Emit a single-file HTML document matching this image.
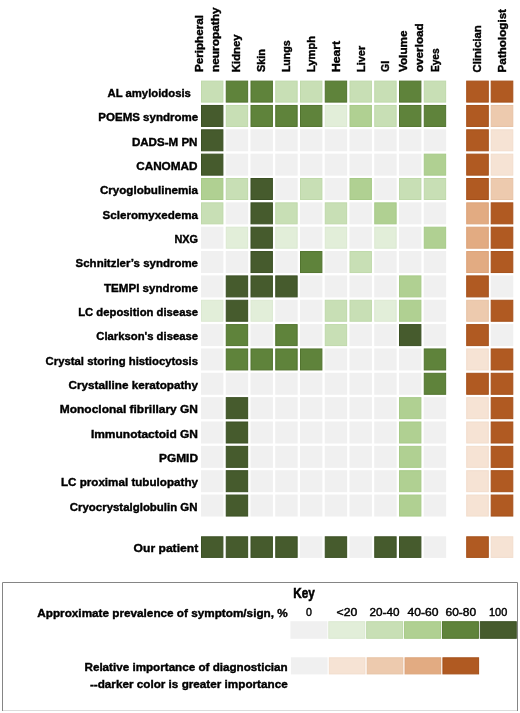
<!DOCTYPE html>
<html><head><meta charset="utf-8"><style>
html,body{margin:0;padding:0;background:#fff;}
body{width:520px;height:713px;overflow:hidden;}
svg{display:block;filter:blur(0.35px);}
text{font-family:"Liberation Sans",sans-serif;font-weight:bold;font-size:11.5px;fill:#000;stroke:#000;stroke-width:0.4px;}
text.r{font-weight:normal;stroke-width:0.45px;}
</style></head><body>
<svg width="520" height="713" viewBox="0 0 520 713">
<rect x="0" y="0" width="520" height="713" fill="#fff"/>
<g>
<rect x="201.50" y="81.10" width="21.40" height="21.00" fill="#c8dfb5" stroke="#bfd9aa" stroke-width="1"/>
<rect x="226.25" y="81.10" width="21.40" height="21.00" fill="#5f833b" stroke="#52742f" stroke-width="1"/>
<rect x="251.00" y="81.10" width="21.40" height="21.00" fill="#5f833b" stroke="#52742f" stroke-width="1"/>
<rect x="275.75" y="81.10" width="21.40" height="21.00" fill="#c8dfb5" stroke="#bfd9aa" stroke-width="1"/>
<rect x="300.50" y="81.10" width="21.40" height="21.00" fill="#c8dfb5" stroke="#bfd9aa" stroke-width="1"/>
<rect x="325.25" y="81.10" width="21.40" height="21.00" fill="#5f833b" stroke="#52742f" stroke-width="1"/>
<rect x="350.00" y="81.10" width="21.40" height="21.00" fill="#c8dfb5" stroke="#bfd9aa" stroke-width="1"/>
<rect x="374.75" y="81.10" width="21.40" height="21.00" fill="#c8dfb5" stroke="#bfd9aa" stroke-width="1"/>
<rect x="399.50" y="81.10" width="21.40" height="21.00" fill="#5f833b" stroke="#52742f" stroke-width="1"/>
<rect x="424.25" y="81.10" width="21.40" height="21.00" fill="#c8dfb5" stroke="#bfd9aa" stroke-width="1"/>
<rect x="466.70" y="81.10" width="21.60" height="21.00" fill="#b05a22" stroke="#a5501a" stroke-width="1"/>
<rect x="491.20" y="81.10" width="21.60" height="21.00" fill="#b05a22" stroke="#a5501a" stroke-width="1"/>
<text x="190.90" y="96.80" text-anchor="end" textLength="83.40" lengthAdjust="spacingAndGlyphs">AL amyloidosis</text>
<rect x="201.50" y="105.45" width="21.40" height="21.00" fill="#465b2d" stroke="#3b5024" stroke-width="1"/>
<rect x="226.25" y="105.45" width="21.40" height="21.00" fill="#c8dfb5" stroke="#bfd9aa" stroke-width="1"/>
<rect x="251.00" y="105.45" width="21.40" height="21.00" fill="#5f833b" stroke="#52742f" stroke-width="1"/>
<rect x="275.75" y="105.45" width="21.40" height="21.00" fill="#5f833b" stroke="#52742f" stroke-width="1"/>
<rect x="300.50" y="105.45" width="21.40" height="21.00" fill="#5f833b" stroke="#52742f" stroke-width="1"/>
<rect x="325.25" y="105.45" width="21.40" height="21.00" fill="#e2eed9" stroke="#dbe9d1" stroke-width="1"/>
<rect x="350.00" y="105.45" width="21.40" height="21.00" fill="#b0d092" stroke="#a7ca88" stroke-width="1"/>
<rect x="374.75" y="105.45" width="21.40" height="21.00" fill="#c8dfb5" stroke="#bfd9aa" stroke-width="1"/>
<rect x="399.50" y="105.45" width="21.40" height="21.00" fill="#5f833b" stroke="#52742f" stroke-width="1"/>
<rect x="424.25" y="105.45" width="21.40" height="21.00" fill="#5f833b" stroke="#52742f" stroke-width="1"/>
<rect x="466.70" y="105.45" width="21.60" height="21.00" fill="#b05a22" stroke="#a5501a" stroke-width="1"/>
<rect x="491.20" y="105.45" width="21.60" height="21.00" fill="#edcaae" stroke="#e7c2a4" stroke-width="1"/>
<text x="198.20" y="121.15" text-anchor="end" textLength="99.90" lengthAdjust="spacingAndGlyphs">POEMS syndrome</text>
<rect x="201.50" y="129.80" width="21.40" height="21.00" fill="#465b2d" stroke="#3b5024" stroke-width="1"/>
<rect x="225.75" y="129.30" width="22.40" height="22.00" fill="#f0f0f0"/>
<rect x="250.50" y="129.30" width="22.40" height="22.00" fill="#f0f0f0"/>
<rect x="275.25" y="129.30" width="22.40" height="22.00" fill="#f0f0f0"/>
<rect x="300.00" y="129.30" width="22.40" height="22.00" fill="#f0f0f0"/>
<rect x="324.75" y="129.30" width="22.40" height="22.00" fill="#f0f0f0"/>
<rect x="349.50" y="129.30" width="22.40" height="22.00" fill="#f0f0f0"/>
<rect x="374.25" y="129.30" width="22.40" height="22.00" fill="#f0f0f0"/>
<rect x="399.00" y="129.30" width="22.40" height="22.00" fill="#f0f0f0"/>
<rect x="423.75" y="129.30" width="22.40" height="22.00" fill="#f0f0f0"/>
<rect x="466.70" y="129.80" width="21.60" height="21.00" fill="#b05a22" stroke="#a5501a" stroke-width="1"/>
<rect x="491.20" y="129.80" width="21.60" height="21.00" fill="#f6e3d4" stroke="#f2ddcc" stroke-width="1"/>
<text x="197.50" y="145.50" text-anchor="end" textLength="65.60" lengthAdjust="spacingAndGlyphs">DADS-M PN</text>
<rect x="201.50" y="154.15" width="21.40" height="21.00" fill="#465b2d" stroke="#3b5024" stroke-width="1"/>
<rect x="225.75" y="153.65" width="22.40" height="22.00" fill="#f0f0f0"/>
<rect x="250.50" y="153.65" width="22.40" height="22.00" fill="#f0f0f0"/>
<rect x="275.25" y="153.65" width="22.40" height="22.00" fill="#f0f0f0"/>
<rect x="300.00" y="153.65" width="22.40" height="22.00" fill="#f0f0f0"/>
<rect x="324.75" y="153.65" width="22.40" height="22.00" fill="#f0f0f0"/>
<rect x="349.50" y="153.65" width="22.40" height="22.00" fill="#f0f0f0"/>
<rect x="374.25" y="153.65" width="22.40" height="22.00" fill="#f0f0f0"/>
<rect x="399.00" y="153.65" width="22.40" height="22.00" fill="#f0f0f0"/>
<rect x="424.25" y="154.15" width="21.40" height="21.00" fill="#b0d092" stroke="#a7ca88" stroke-width="1"/>
<rect x="466.70" y="154.15" width="21.60" height="21.00" fill="#b05a22" stroke="#a5501a" stroke-width="1"/>
<rect x="491.20" y="154.15" width="21.60" height="21.00" fill="#f6e3d4" stroke="#f2ddcc" stroke-width="1"/>
<text x="197.50" y="169.85" text-anchor="end" textLength="61.30" lengthAdjust="spacingAndGlyphs">CANOMAD</text>
<rect x="201.50" y="178.50" width="21.40" height="21.00" fill="#b0d092" stroke="#a7ca88" stroke-width="1"/>
<rect x="226.25" y="178.50" width="21.40" height="21.00" fill="#c8dfb5" stroke="#bfd9aa" stroke-width="1"/>
<rect x="251.00" y="178.50" width="21.40" height="21.00" fill="#465b2d" stroke="#3b5024" stroke-width="1"/>
<rect x="275.25" y="178.00" width="22.40" height="22.00" fill="#f0f0f0"/>
<rect x="300.50" y="178.50" width="21.40" height="21.00" fill="#c8dfb5" stroke="#bfd9aa" stroke-width="1"/>
<rect x="324.75" y="178.00" width="22.40" height="22.00" fill="#f0f0f0"/>
<rect x="350.00" y="178.50" width="21.40" height="21.00" fill="#b0d092" stroke="#a7ca88" stroke-width="1"/>
<rect x="374.25" y="178.00" width="22.40" height="22.00" fill="#f0f0f0"/>
<rect x="399.50" y="178.50" width="21.40" height="21.00" fill="#c8dfb5" stroke="#bfd9aa" stroke-width="1"/>
<rect x="424.25" y="178.50" width="21.40" height="21.00" fill="#c8dfb5" stroke="#bfd9aa" stroke-width="1"/>
<rect x="466.70" y="178.50" width="21.60" height="21.00" fill="#b05a22" stroke="#a5501a" stroke-width="1"/>
<rect x="491.20" y="178.50" width="21.60" height="21.00" fill="#edcaae" stroke="#e7c2a4" stroke-width="1"/>
<text x="198.00" y="194.20" text-anchor="end" textLength="98.10" lengthAdjust="spacingAndGlyphs">Cryoglobulinemia</text>
<rect x="201.50" y="202.85" width="21.40" height="21.00" fill="#c8dfb5" stroke="#bfd9aa" stroke-width="1"/>
<rect x="225.75" y="202.35" width="22.40" height="22.00" fill="#f0f0f0"/>
<rect x="251.00" y="202.85" width="21.40" height="21.00" fill="#465b2d" stroke="#3b5024" stroke-width="1"/>
<rect x="275.75" y="202.85" width="21.40" height="21.00" fill="#c8dfb5" stroke="#bfd9aa" stroke-width="1"/>
<rect x="300.00" y="202.35" width="22.40" height="22.00" fill="#f0f0f0"/>
<rect x="325.25" y="202.85" width="21.40" height="21.00" fill="#c8dfb5" stroke="#bfd9aa" stroke-width="1"/>
<rect x="349.50" y="202.35" width="22.40" height="22.00" fill="#f0f0f0"/>
<rect x="374.75" y="202.85" width="21.40" height="21.00" fill="#b0d092" stroke="#a7ca88" stroke-width="1"/>
<rect x="399.00" y="202.35" width="22.40" height="22.00" fill="#f0f0f0"/>
<rect x="423.75" y="202.35" width="22.40" height="22.00" fill="#f0f0f0"/>
<rect x="466.70" y="202.85" width="21.60" height="21.00" fill="#e2ab82" stroke="#dca379" stroke-width="1"/>
<rect x="491.20" y="202.85" width="21.60" height="21.00" fill="#b05a22" stroke="#a5501a" stroke-width="1"/>
<text x="198.00" y="218.55" text-anchor="end" textLength="95.50" lengthAdjust="spacingAndGlyphs">Scleromyxedema</text>
<rect x="201.00" y="226.70" width="22.40" height="22.00" fill="#f0f0f0"/>
<rect x="226.25" y="227.20" width="21.40" height="21.00" fill="#e2eed9" stroke="#dbe9d1" stroke-width="1"/>
<rect x="251.00" y="227.20" width="21.40" height="21.00" fill="#465b2d" stroke="#3b5024" stroke-width="1"/>
<rect x="275.75" y="227.20" width="21.40" height="21.00" fill="#e2eed9" stroke="#dbe9d1" stroke-width="1"/>
<rect x="300.00" y="226.70" width="22.40" height="22.00" fill="#f0f0f0"/>
<rect x="325.25" y="227.20" width="21.40" height="21.00" fill="#e2eed9" stroke="#dbe9d1" stroke-width="1"/>
<rect x="349.50" y="226.70" width="22.40" height="22.00" fill="#f0f0f0"/>
<rect x="374.75" y="227.20" width="21.40" height="21.00" fill="#e2eed9" stroke="#dbe9d1" stroke-width="1"/>
<rect x="399.00" y="226.70" width="22.40" height="22.00" fill="#f0f0f0"/>
<rect x="424.25" y="227.20" width="21.40" height="21.00" fill="#b0d092" stroke="#a7ca88" stroke-width="1"/>
<rect x="466.70" y="227.20" width="21.60" height="21.00" fill="#e2ab82" stroke="#dca379" stroke-width="1"/>
<rect x="491.20" y="227.20" width="21.60" height="21.00" fill="#b05a22" stroke="#a5501a" stroke-width="1"/>
<text x="198.00" y="242.90" text-anchor="end" textLength="23.60" lengthAdjust="spacingAndGlyphs">NXG</text>
<rect x="201.00" y="251.05" width="22.40" height="22.00" fill="#f0f0f0"/>
<rect x="225.75" y="251.05" width="22.40" height="22.00" fill="#f0f0f0"/>
<rect x="251.00" y="251.55" width="21.40" height="21.00" fill="#465b2d" stroke="#3b5024" stroke-width="1"/>
<rect x="275.25" y="251.05" width="22.40" height="22.00" fill="#f0f0f0"/>
<rect x="300.50" y="251.55" width="21.40" height="21.00" fill="#5f833b" stroke="#52742f" stroke-width="1"/>
<rect x="324.75" y="251.05" width="22.40" height="22.00" fill="#f0f0f0"/>
<rect x="350.00" y="251.55" width="21.40" height="21.00" fill="#c8dfb5" stroke="#bfd9aa" stroke-width="1"/>
<rect x="374.25" y="251.05" width="22.40" height="22.00" fill="#f0f0f0"/>
<rect x="399.00" y="251.05" width="22.40" height="22.00" fill="#f0f0f0"/>
<rect x="423.75" y="251.05" width="22.40" height="22.00" fill="#f0f0f0"/>
<rect x="466.70" y="251.55" width="21.60" height="21.00" fill="#e2ab82" stroke="#dca379" stroke-width="1"/>
<rect x="491.20" y="251.55" width="21.60" height="21.00" fill="#b05a22" stroke="#a5501a" stroke-width="1"/>
<text x="198.00" y="267.25" text-anchor="end" textLength="122.40" lengthAdjust="spacingAndGlyphs">Schnitzler’s syndrome</text>
<rect x="201.00" y="275.40" width="22.40" height="22.00" fill="#f0f0f0"/>
<rect x="226.25" y="275.90" width="21.40" height="21.00" fill="#465b2d" stroke="#3b5024" stroke-width="1"/>
<rect x="251.00" y="275.90" width="21.40" height="21.00" fill="#465b2d" stroke="#3b5024" stroke-width="1"/>
<rect x="275.75" y="275.90" width="21.40" height="21.00" fill="#465b2d" stroke="#3b5024" stroke-width="1"/>
<rect x="300.00" y="275.40" width="22.40" height="22.00" fill="#f0f0f0"/>
<rect x="324.75" y="275.40" width="22.40" height="22.00" fill="#f0f0f0"/>
<rect x="349.50" y="275.40" width="22.40" height="22.00" fill="#f0f0f0"/>
<rect x="374.25" y="275.40" width="22.40" height="22.00" fill="#f0f0f0"/>
<rect x="399.50" y="275.90" width="21.40" height="21.00" fill="#b0d092" stroke="#a7ca88" stroke-width="1"/>
<rect x="423.75" y="275.40" width="22.40" height="22.00" fill="#f0f0f0"/>
<rect x="466.70" y="275.90" width="21.60" height="21.00" fill="#b05a22" stroke="#a5501a" stroke-width="1"/>
<rect x="490.70" y="275.40" width="22.60" height="22.00" fill="#f0f0f0"/>
<text x="198.00" y="291.60" text-anchor="end" textLength="94.00" lengthAdjust="spacingAndGlyphs">TEMPI syndrome</text>
<rect x="201.50" y="300.25" width="21.40" height="21.00" fill="#e2eed9" stroke="#dbe9d1" stroke-width="1"/>
<rect x="226.25" y="300.25" width="21.40" height="21.00" fill="#465b2d" stroke="#3b5024" stroke-width="1"/>
<rect x="251.00" y="300.25" width="21.40" height="21.00" fill="#e2eed9" stroke="#dbe9d1" stroke-width="1"/>
<rect x="275.25" y="299.75" width="22.40" height="22.00" fill="#f0f0f0"/>
<rect x="300.00" y="299.75" width="22.40" height="22.00" fill="#f0f0f0"/>
<rect x="325.25" y="300.25" width="21.40" height="21.00" fill="#c8dfb5" stroke="#bfd9aa" stroke-width="1"/>
<rect x="350.00" y="300.25" width="21.40" height="21.00" fill="#c8dfb5" stroke="#bfd9aa" stroke-width="1"/>
<rect x="374.75" y="300.25" width="21.40" height="21.00" fill="#e2eed9" stroke="#dbe9d1" stroke-width="1"/>
<rect x="399.50" y="300.25" width="21.40" height="21.00" fill="#b0d092" stroke="#a7ca88" stroke-width="1"/>
<rect x="423.75" y="299.75" width="22.40" height="22.00" fill="#f0f0f0"/>
<rect x="466.70" y="300.25" width="21.60" height="21.00" fill="#edcaae" stroke="#e7c2a4" stroke-width="1"/>
<rect x="491.20" y="300.25" width="21.60" height="21.00" fill="#b05a22" stroke="#a5501a" stroke-width="1"/>
<text x="198.00" y="315.95" text-anchor="end" textLength="119.80" lengthAdjust="spacingAndGlyphs">LC deposition disease</text>
<rect x="201.00" y="324.10" width="22.40" height="22.00" fill="#f0f0f0"/>
<rect x="226.25" y="324.60" width="21.40" height="21.00" fill="#5f833b" stroke="#52742f" stroke-width="1"/>
<rect x="250.50" y="324.10" width="22.40" height="22.00" fill="#f0f0f0"/>
<rect x="275.75" y="324.60" width="21.40" height="21.00" fill="#5f833b" stroke="#52742f" stroke-width="1"/>
<rect x="300.00" y="324.10" width="22.40" height="22.00" fill="#f0f0f0"/>
<rect x="325.25" y="324.60" width="21.40" height="21.00" fill="#c8dfb5" stroke="#bfd9aa" stroke-width="1"/>
<rect x="349.50" y="324.10" width="22.40" height="22.00" fill="#f0f0f0"/>
<rect x="374.25" y="324.10" width="22.40" height="22.00" fill="#f0f0f0"/>
<rect x="399.50" y="324.60" width="21.40" height="21.00" fill="#465b2d" stroke="#3b5024" stroke-width="1"/>
<rect x="423.75" y="324.10" width="22.40" height="22.00" fill="#f0f0f0"/>
<rect x="466.70" y="324.60" width="21.60" height="21.00" fill="#b05a22" stroke="#a5501a" stroke-width="1"/>
<rect x="490.70" y="324.10" width="22.60" height="22.00" fill="#f0f0f0"/>
<text x="198.00" y="340.30" text-anchor="end" textLength="101.70" lengthAdjust="spacingAndGlyphs">Clarkson's disease</text>
<rect x="201.00" y="348.45" width="22.40" height="22.00" fill="#f0f0f0"/>
<rect x="226.25" y="348.95" width="21.40" height="21.00" fill="#5f833b" stroke="#52742f" stroke-width="1"/>
<rect x="251.00" y="348.95" width="21.40" height="21.00" fill="#5f833b" stroke="#52742f" stroke-width="1"/>
<rect x="275.75" y="348.95" width="21.40" height="21.00" fill="#5f833b" stroke="#52742f" stroke-width="1"/>
<rect x="300.50" y="348.95" width="21.40" height="21.00" fill="#5f833b" stroke="#52742f" stroke-width="1"/>
<rect x="324.75" y="348.45" width="22.40" height="22.00" fill="#f0f0f0"/>
<rect x="349.50" y="348.45" width="22.40" height="22.00" fill="#f0f0f0"/>
<rect x="374.25" y="348.45" width="22.40" height="22.00" fill="#f0f0f0"/>
<rect x="399.00" y="348.45" width="22.40" height="22.00" fill="#f0f0f0"/>
<rect x="424.25" y="348.95" width="21.40" height="21.00" fill="#5f833b" stroke="#52742f" stroke-width="1"/>
<rect x="466.70" y="348.95" width="21.60" height="21.00" fill="#f6e3d4" stroke="#f2ddcc" stroke-width="1"/>
<rect x="491.20" y="348.95" width="21.60" height="21.00" fill="#b05a22" stroke="#a5501a" stroke-width="1"/>
<text x="198.00" y="364.65" text-anchor="end" textLength="152.40" lengthAdjust="spacingAndGlyphs">Crystal storing histiocytosis</text>
<rect x="201.00" y="372.80" width="22.40" height="22.00" fill="#f0f0f0"/>
<rect x="225.75" y="372.80" width="22.40" height="22.00" fill="#f0f0f0"/>
<rect x="250.50" y="372.80" width="22.40" height="22.00" fill="#f0f0f0"/>
<rect x="275.25" y="372.80" width="22.40" height="22.00" fill="#f0f0f0"/>
<rect x="300.00" y="372.80" width="22.40" height="22.00" fill="#f0f0f0"/>
<rect x="324.75" y="372.80" width="22.40" height="22.00" fill="#f0f0f0"/>
<rect x="349.50" y="372.80" width="22.40" height="22.00" fill="#f0f0f0"/>
<rect x="374.25" y="372.80" width="22.40" height="22.00" fill="#f0f0f0"/>
<rect x="399.00" y="372.80" width="22.40" height="22.00" fill="#f0f0f0"/>
<rect x="424.25" y="373.30" width="21.40" height="21.00" fill="#5f833b" stroke="#52742f" stroke-width="1"/>
<rect x="466.70" y="373.30" width="21.60" height="21.00" fill="#b05a22" stroke="#a5501a" stroke-width="1"/>
<rect x="491.20" y="373.30" width="21.60" height="21.00" fill="#b05a22" stroke="#a5501a" stroke-width="1"/>
<text x="198.00" y="389.00" text-anchor="end" textLength="129.40" lengthAdjust="spacingAndGlyphs">Crystalline keratopathy</text>
<rect x="201.00" y="397.15" width="22.40" height="22.00" fill="#f0f0f0"/>
<rect x="226.25" y="397.65" width="21.40" height="21.00" fill="#465b2d" stroke="#3b5024" stroke-width="1"/>
<rect x="250.50" y="397.15" width="22.40" height="22.00" fill="#f0f0f0"/>
<rect x="275.25" y="397.15" width="22.40" height="22.00" fill="#f0f0f0"/>
<rect x="300.00" y="397.15" width="22.40" height="22.00" fill="#f0f0f0"/>
<rect x="324.75" y="397.15" width="22.40" height="22.00" fill="#f0f0f0"/>
<rect x="349.50" y="397.15" width="22.40" height="22.00" fill="#f0f0f0"/>
<rect x="374.25" y="397.15" width="22.40" height="22.00" fill="#f0f0f0"/>
<rect x="399.50" y="397.65" width="21.40" height="21.00" fill="#b0d092" stroke="#a7ca88" stroke-width="1"/>
<rect x="423.75" y="397.15" width="22.40" height="22.00" fill="#f0f0f0"/>
<rect x="466.70" y="397.65" width="21.60" height="21.00" fill="#f6e3d4" stroke="#f2ddcc" stroke-width="1"/>
<rect x="491.20" y="397.65" width="21.60" height="21.00" fill="#b05a22" stroke="#a5501a" stroke-width="1"/>
<text x="198.00" y="413.35" text-anchor="end" textLength="138.20" lengthAdjust="spacingAndGlyphs">Monoclonal fibrillary GN</text>
<rect x="201.00" y="421.50" width="22.40" height="22.00" fill="#f0f0f0"/>
<rect x="226.25" y="422.00" width="21.40" height="21.00" fill="#465b2d" stroke="#3b5024" stroke-width="1"/>
<rect x="250.50" y="421.50" width="22.40" height="22.00" fill="#f0f0f0"/>
<rect x="275.25" y="421.50" width="22.40" height="22.00" fill="#f0f0f0"/>
<rect x="300.00" y="421.50" width="22.40" height="22.00" fill="#f0f0f0"/>
<rect x="324.75" y="421.50" width="22.40" height="22.00" fill="#f0f0f0"/>
<rect x="349.50" y="421.50" width="22.40" height="22.00" fill="#f0f0f0"/>
<rect x="374.25" y="421.50" width="22.40" height="22.00" fill="#f0f0f0"/>
<rect x="399.50" y="422.00" width="21.40" height="21.00" fill="#b0d092" stroke="#a7ca88" stroke-width="1"/>
<rect x="423.75" y="421.50" width="22.40" height="22.00" fill="#f0f0f0"/>
<rect x="466.70" y="422.00" width="21.60" height="21.00" fill="#f6e3d4" stroke="#f2ddcc" stroke-width="1"/>
<rect x="491.20" y="422.00" width="21.60" height="21.00" fill="#b05a22" stroke="#a5501a" stroke-width="1"/>
<text x="198.00" y="437.70" text-anchor="end" textLength="107.10" lengthAdjust="spacingAndGlyphs">Immunotactoid GN</text>
<rect x="201.00" y="445.85" width="22.40" height="22.00" fill="#f0f0f0"/>
<rect x="226.25" y="446.35" width="21.40" height="21.00" fill="#465b2d" stroke="#3b5024" stroke-width="1"/>
<rect x="250.50" y="445.85" width="22.40" height="22.00" fill="#f0f0f0"/>
<rect x="275.25" y="445.85" width="22.40" height="22.00" fill="#f0f0f0"/>
<rect x="300.00" y="445.85" width="22.40" height="22.00" fill="#f0f0f0"/>
<rect x="324.75" y="445.85" width="22.40" height="22.00" fill="#f0f0f0"/>
<rect x="349.50" y="445.85" width="22.40" height="22.00" fill="#f0f0f0"/>
<rect x="374.25" y="445.85" width="22.40" height="22.00" fill="#f0f0f0"/>
<rect x="399.50" y="446.35" width="21.40" height="21.00" fill="#b0d092" stroke="#a7ca88" stroke-width="1"/>
<rect x="423.75" y="445.85" width="22.40" height="22.00" fill="#f0f0f0"/>
<rect x="466.70" y="446.35" width="21.60" height="21.00" fill="#f6e3d4" stroke="#f2ddcc" stroke-width="1"/>
<rect x="491.20" y="446.35" width="21.60" height="21.00" fill="#b05a22" stroke="#a5501a" stroke-width="1"/>
<text x="198.00" y="462.05" text-anchor="end" textLength="39.00" lengthAdjust="spacingAndGlyphs">PGMID</text>
<rect x="201.00" y="470.20" width="22.40" height="22.00" fill="#f0f0f0"/>
<rect x="226.25" y="470.70" width="21.40" height="21.00" fill="#465b2d" stroke="#3b5024" stroke-width="1"/>
<rect x="250.50" y="470.20" width="22.40" height="22.00" fill="#f0f0f0"/>
<rect x="275.25" y="470.20" width="22.40" height="22.00" fill="#f0f0f0"/>
<rect x="300.00" y="470.20" width="22.40" height="22.00" fill="#f0f0f0"/>
<rect x="324.75" y="470.20" width="22.40" height="22.00" fill="#f0f0f0"/>
<rect x="349.50" y="470.20" width="22.40" height="22.00" fill="#f0f0f0"/>
<rect x="374.25" y="470.20" width="22.40" height="22.00" fill="#f0f0f0"/>
<rect x="399.50" y="470.70" width="21.40" height="21.00" fill="#b0d092" stroke="#a7ca88" stroke-width="1"/>
<rect x="423.75" y="470.20" width="22.40" height="22.00" fill="#f0f0f0"/>
<rect x="466.70" y="470.70" width="21.60" height="21.00" fill="#f6e3d4" stroke="#f2ddcc" stroke-width="1"/>
<rect x="491.20" y="470.70" width="21.60" height="21.00" fill="#b05a22" stroke="#a5501a" stroke-width="1"/>
<text x="198.00" y="486.40" text-anchor="end" textLength="137.10" lengthAdjust="spacingAndGlyphs">LC proximal tubulopathy</text>
<rect x="201.00" y="494.55" width="22.40" height="22.00" fill="#f0f0f0"/>
<rect x="226.25" y="495.05" width="21.40" height="21.00" fill="#465b2d" stroke="#3b5024" stroke-width="1"/>
<rect x="250.50" y="494.55" width="22.40" height="22.00" fill="#f0f0f0"/>
<rect x="275.25" y="494.55" width="22.40" height="22.00" fill="#f0f0f0"/>
<rect x="300.00" y="494.55" width="22.40" height="22.00" fill="#f0f0f0"/>
<rect x="324.75" y="494.55" width="22.40" height="22.00" fill="#f0f0f0"/>
<rect x="349.50" y="494.55" width="22.40" height="22.00" fill="#f0f0f0"/>
<rect x="374.25" y="494.55" width="22.40" height="22.00" fill="#f0f0f0"/>
<rect x="399.50" y="495.05" width="21.40" height="21.00" fill="#b0d092" stroke="#a7ca88" stroke-width="1"/>
<rect x="423.75" y="494.55" width="22.40" height="22.00" fill="#f0f0f0"/>
<rect x="466.70" y="495.05" width="21.60" height="21.00" fill="#f6e3d4" stroke="#f2ddcc" stroke-width="1"/>
<rect x="491.20" y="495.05" width="21.60" height="21.00" fill="#b05a22" stroke="#a5501a" stroke-width="1"/>
<text x="197.50" y="510.75" text-anchor="end" textLength="127.70" lengthAdjust="spacingAndGlyphs">Cryocrystalglobulin GN</text>
<rect x="201.50" y="536.80" width="21.40" height="20.60" fill="#465b2d" stroke="#3b5024" stroke-width="1"/>
<rect x="226.25" y="536.80" width="21.40" height="20.60" fill="#465b2d" stroke="#3b5024" stroke-width="1"/>
<rect x="251.00" y="536.80" width="21.40" height="20.60" fill="#465b2d" stroke="#3b5024" stroke-width="1"/>
<rect x="275.75" y="536.80" width="21.40" height="20.60" fill="#465b2d" stroke="#3b5024" stroke-width="1"/>
<rect x="300.00" y="536.30" width="22.40" height="21.60" fill="#f0f0f0"/>
<rect x="325.25" y="536.80" width="21.40" height="20.60" fill="#465b2d" stroke="#3b5024" stroke-width="1"/>
<rect x="349.50" y="536.30" width="22.40" height="21.60" fill="#f0f0f0"/>
<rect x="374.75" y="536.80" width="21.40" height="20.60" fill="#465b2d" stroke="#3b5024" stroke-width="1"/>
<rect x="399.50" y="536.80" width="21.40" height="20.60" fill="#465b2d" stroke="#3b5024" stroke-width="1"/>
<rect x="423.75" y="536.30" width="22.40" height="21.60" fill="#f0f0f0"/>
<rect x="466.70" y="536.80" width="21.60" height="20.60" fill="#b05a22" stroke="#a5501a" stroke-width="1"/>
<rect x="491.20" y="536.80" width="21.60" height="20.60" fill="#f6e3d4" stroke="#f2ddcc" stroke-width="1"/>
<text x="198.20" y="552.00" text-anchor="end" textLength="64.60" lengthAdjust="spacingAndGlyphs">Our patient</text>
</g>
<g>
<text transform="translate(202.70,72.10) rotate(-90)" x="0" y="0" textLength="57.10" lengthAdjust="spacingAndGlyphs">Peripheral</text>
<text transform="translate(219.30,72.10) rotate(-90)" x="0" y="0" textLength="64.80" lengthAdjust="spacingAndGlyphs">neuropathy</text>
<text transform="translate(240.20,72.20) rotate(-90)" x="0" y="0" textLength="37.80" lengthAdjust="spacingAndGlyphs">Kidney</text>
<text transform="translate(265.40,72.10) rotate(-90)" x="0" y="0" textLength="23.00" lengthAdjust="spacingAndGlyphs">Skin</text>
<text transform="translate(290.00,72.10) rotate(-90)" x="0" y="0" textLength="31.70" lengthAdjust="spacingAndGlyphs">Lungs</text>
<text transform="translate(314.60,72.10) rotate(-90)" x="0" y="0" textLength="36.30" lengthAdjust="spacingAndGlyphs">Lymph</text>
<text transform="translate(340.00,72.10) rotate(-90)" x="0" y="0" textLength="31.30" lengthAdjust="spacingAndGlyphs">Heart</text>
<text transform="translate(364.50,72.10) rotate(-90)" x="0" y="0" textLength="26.40" lengthAdjust="spacingAndGlyphs">Liver</text>
<text transform="translate(389.00,72.10) rotate(-90)" x="0" y="0" textLength="11.20" lengthAdjust="spacingAndGlyphs">GI</text>
<text transform="translate(406.80,72.10) rotate(-90)" x="0" y="0" textLength="41.80" lengthAdjust="spacingAndGlyphs">Volume</text>
<text transform="translate(423.30,72.10) rotate(-90)" x="0" y="0" textLength="48.80" lengthAdjust="spacingAndGlyphs">overload</text>
<text transform="translate(439.10,72.10) rotate(-90)" x="0" y="0" textLength="23.80" lengthAdjust="spacingAndGlyphs">Eyes</text>
<text transform="translate(481.25,72.40) rotate(-90)" x="0" y="0" textLength="47.20" lengthAdjust="spacingAndGlyphs">Clinician</text>
<text transform="translate(505.60,72.40) rotate(-90)" x="0" y="0" textLength="63.40" lengthAdjust="spacingAndGlyphs">Pathologist</text>
</g>
<g>
<path d="M2.5,711 V582.5 H517.5 V711" fill="none" stroke="#858585" stroke-width="1"/>
<rect x="3" y="710" width="514" height="1" fill="#dcdcdc"/>
<rect x="290.40" y="621.20" width="36.98" height="17.60" fill="#f0f0f0"/>
<rect x="328.78" y="621.70" width="35.98" height="16.60" fill="#e2eed9" stroke="#dbe9d1" stroke-width="1"/>
<rect x="366.66" y="621.70" width="35.98" height="16.60" fill="#c8dfb5" stroke="#bfd9aa" stroke-width="1"/>
<rect x="404.54" y="621.70" width="35.98" height="16.60" fill="#b0d092" stroke="#a7ca88" stroke-width="1"/>
<rect x="442.42" y="621.70" width="35.98" height="16.60" fill="#5f833b" stroke="#52742f" stroke-width="1"/>
<rect x="480.30" y="621.70" width="35.98" height="16.60" fill="#465b2d" stroke="#3b5024" stroke-width="1"/>
<rect x="290.90" y="657.30" width="36.68" height="17.10" fill="#f0f0f0"/>
<rect x="329.28" y="657.80" width="35.68" height="16.10" fill="#f6e3d4" stroke="#f2ddcc" stroke-width="1"/>
<rect x="367.16" y="657.80" width="35.68" height="16.10" fill="#edcaae" stroke="#e7c2a4" stroke-width="1"/>
<rect x="405.04" y="657.80" width="35.68" height="16.10" fill="#e2ab82" stroke="#dca379" stroke-width="1"/>
<rect x="442.92" y="657.80" width="35.68" height="16.10" fill="#b05a22" stroke="#a5501a" stroke-width="1"/>
<text class="r" x="305.90" y="615.9" textLength="5.90" lengthAdjust="spacingAndGlyphs">0</text>
<text class="r" x="336.60" y="615.9" textLength="20.80" lengthAdjust="spacingAndGlyphs">&lt;20</text>
<text class="r" x="369.50" y="615.9" textLength="29.90" lengthAdjust="spacingAndGlyphs">20-40</text>
<text class="r" x="407.50" y="615.9" textLength="31.00" lengthAdjust="spacingAndGlyphs">40-60</text>
<text class="r" x="445.50" y="615.9" textLength="30.60" lengthAdjust="spacingAndGlyphs">60-80</text>
<text class="r" x="489.00" y="615.9" textLength="18.20" lengthAdjust="spacingAndGlyphs">100</text>
<text x="293.3" y="597.9" textLength="21.5" lengthAdjust="spacingAndGlyphs" style="font-size:14.2px;stroke-width:0.55px">Key</text>
<text x="37.3" y="616.9" textLength="250.4" lengthAdjust="spacingAndGlyphs">Approximate prevalence of symptom/sign, %</text>
<text x="84.5" y="670.5" textLength="203.2" lengthAdjust="spacingAndGlyphs">Relative importance of diagnostician</text>
<text x="89.9" y="688.3" textLength="197.8" lengthAdjust="spacingAndGlyphs">--darker color is greater importance</text>
</g>
</svg>
</body></html>
